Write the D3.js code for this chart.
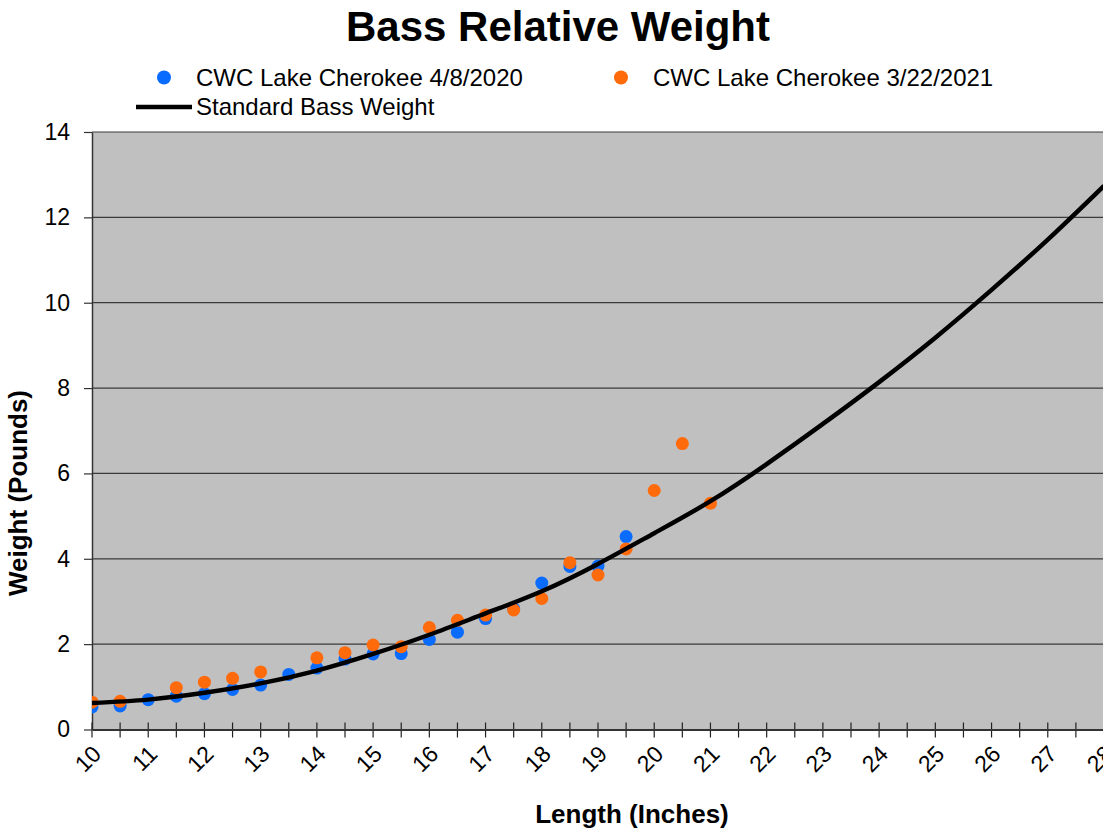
<!DOCTYPE html>
<html>
<head>
<meta charset="utf-8">
<script src="https://cdn.jsdelivr.net/npm/d3@7"></script>
<style>
  body { margin: 0; background: #fff; }
  svg { font-family: "Liberation Sans", Arial, sans-serif; }
</style>
</head>
<body>
<svg id="chart" width="1103" height="830"></svg>
<script>
// 2020 survey (blue)
const len2020 = [10, 10.5, 11, 11.5, 12, 12.5, 13, 13.5, 14, 14.5, 15, 15.5, 16, 16.5, 17, 17.5, 18, 18.5, 19, 19.5];
const wt2020 = [0.53, 0.55, 0.70, 0.78, 0.84, 0.94, 1.04, 1.29, 1.44, 1.65, 1.77, 1.78, 2.11, 2.28, 2.60, 2.83, 3.43, 3.82, 3.83, 4.52];

// 2021 survey (orange)
const len2021 = [10, 10.5, 11.5, 12, 12.5, 13, 14, 14.5, 15, 15.5, 16, 16.5, 17, 17.5, 18, 18.5, 19, 19.5, 20, 20.5, 21];
const wt2021 = [0.64, 0.66, 0.98, 1.11, 1.20, 1.35, 1.68, 1.80, 1.98, 1.94, 2.39, 2.56, 2.68, 2.80, 3.07, 3.91, 3.62, 4.23, 5.60, 6.70, 5.30];

// standard weight line
const stdLen = [10, 11, 12, 13, 14, 15, 16, 17, 18, 19, 20, 21, 22, 23, 24, 25, 26, 27, 28];
const stdWt = [0.62, 0.70, 0.86, 1.08, 1.38, 1.77, 2.22, 2.72, 3.24, 3.88, 4.60, 5.35, 6.22, 7.16, 8.14, 9.18, 10.30, 11.48, 12.74];

const xTicks = d3.range(10, 29);
const xMinor = d3.range(10, 28.01, 0.5);
const yTicks = [0, 2, 4, 6, 8, 10, 12, 14];

const seriesNames = ["CWC Lake Cherokee 4/8/2020", "CWC Lake Cherokee 3/22/2021", "Standard Bass Weight"];
const BLUE = "#0a6cff", ORANGE = "#ff6a0a";

const pLeft = 92, pRight = 1104, pTop = 132, pBottom = 729.5;

const svg = d3.select("#chart");

const x = d3.scaleLinear().domain([10, 28]).range([pLeft, pRight]);
const y = d3.scaleLinear().domain([0, 14]).range([pBottom, pTop]);

// plot background
svg.append("rect")
    .attr("x", pLeft).attr("y", pTop)
    .attr("width", pRight - pLeft).attr("height", pBottom - pTop)
    .attr("fill", "#c0c0c0");

svg.append("defs").append("clipPath").attr("id", "clip")
    .append("rect")
    .attr("x", pLeft).attr("y", pTop - 10)
    .attr("width", pRight - pLeft - 1).attr("height", pBottom - pTop + 10);

// gridlines
svg.append("g")
    .selectAll("line")
    .data(yTicks.slice(1))
    .enter().append("line")
    .attr("x1", pLeft).attr("x2", pRight)
    .attr("y1", d => y(d)).attr("y2", d => y(d))
    .attr("stroke", "#3a3a3a")
    .attr("stroke-width", 1.2);

// y axis
const yAxis = d3.axisLeft(y).tickValues(yTicks).tickSize(8).tickPadding(14).tickSizeOuter(0);
const gy = svg.append("g")
    .attr("transform", `translate(${pLeft},0)`)
    .call(yAxis);
gy.select(".domain").attr("stroke", "#333").attr("stroke-width", 1.5);
gy.selectAll(".tick line").attr("stroke", "#333").attr("stroke-width", 1.2);
gy.selectAll(".tick text")
    .style("font-size", "23px")
    .attr("fill", "#000");

// x axis: minor ticks crossing the line
svg.append("g")
    .selectAll("line")
    .data(xMinor)
    .enter().append("line")
    .attr("x1", d => x(d)).attr("x2", d => x(d))
    .attr("y1", pBottom - 7).attr("y2", pBottom + 8)
    .attr("stroke", "#222")
    .attr("stroke-width", 1.2);

const xAxis = d3.axisBottom(x).tickValues(xTicks).tickSize(8).tickSizeOuter(0);
const gx = svg.append("g")
    .attr("transform", `translate(0,${pBottom})`)
    .call(xAxis);
gx.select(".domain").attr("stroke", "#333").attr("stroke-width", 1.8);
gx.selectAll(".tick line").remove();
gx.selectAll(".tick text")
    .style("font-size", "23px")
    .attr("fill", "#000")
    .attr("text-anchor", "end")
    .attr("dy", null)
    .attr("y", 0)
    .attr("transform", "translate(10,26) rotate(-45)");

// points
const plot = svg.append("g").attr("clip-path", "url(#clip)");

plot.append("g")
    .selectAll("circle")
    .data(len2020.map((l, i) => ({l: l, w: wt2020[i]})))
    .enter().append("circle")
    .attr("cx", d => x(d.l))
    .attr("cy", d => y(d.w))
    .attr("r", 6.5)
    .attr("fill", BLUE);

plot.append("g")
    .selectAll("circle")
    .data(len2021.map((l, i) => ({l: l, w: wt2021[i]})))
    .enter().append("circle")
    .attr("cx", d => x(d.l))
    .attr("cy", d => y(d.w))
    .attr("r", 6.5)
    .attr("fill", ORANGE);

// standard line
const line = d3.line()
    .x(d => x(d.l))
    .y(d => y(d.w))
    .curve(d3.curveNatural);

plot.append("path")
    .datum(stdLen.map((l, i) => ({l: l, w: stdWt[i]})))
    .attr("d", line)
    .attr("fill", "none")
    .attr("stroke", "#000")
    .attr("stroke-width", 4.5);

// title
svg.append("text")
    .attr("x", 558).attr("y", 41)
    .attr("text-anchor", "middle")
    .style("font-size", "42px")
    .style("font-weight", "bold")
    .text("Bass Relative Weight");

// legend
const lg = svg.append("g").style("font-size", "24px");
lg.append("circle").attr("cx", 164).attr("cy", 77.5).attr("r", 7).attr("fill", BLUE);
lg.append("text").attr("x", 196).attr("y", 86).text(seriesNames[0]);
lg.append("circle").attr("cx", 621).attr("cy", 77.5).attr("r", 7).attr("fill", ORANGE);
lg.append("text").attr("x", 653).attr("y", 86).text(seriesNames[1]);
lg.append("line")
    .attr("x1", 136).attr("x2", 192)
    .attr("y1", 107).attr("y2", 107)
    .attr("stroke", "#000").attr("stroke-width", 4.5);
lg.append("text").attr("x", 196).attr("y", 115).text(seriesNames[2]);

// axis titles
svg.append("text")
    .attr("x", 632).attr("y", 823)
    .attr("text-anchor", "middle")
    .style("font-size", "26px")
    .style("font-weight", "bold")
    .text("Length (Inches)");

svg.append("text")
    .attr("transform", "translate(27,493) rotate(-90)")
    .attr("text-anchor", "middle")
    .style("font-size", "26px")
    .style("font-weight", "bold")
    .text("Weight (Pounds)");
</script>
</body>
</html>
